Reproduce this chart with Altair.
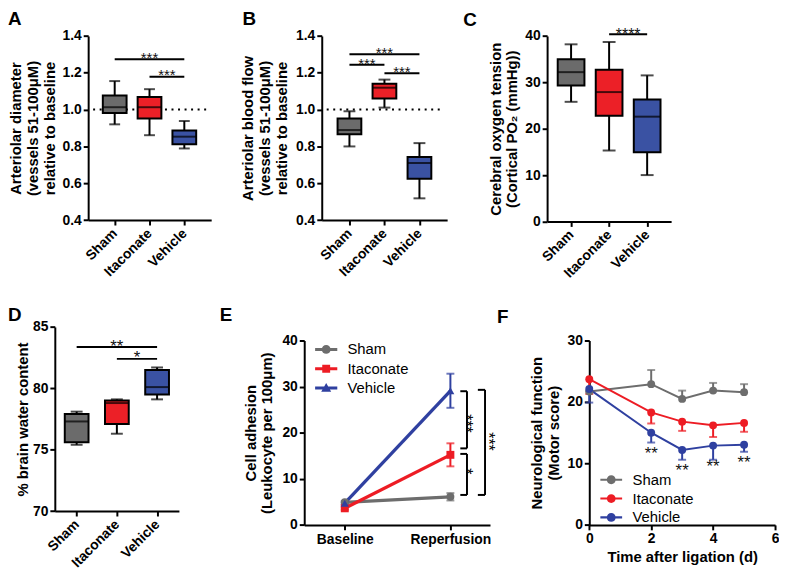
import altair as alt
import pandas as pd

FONT = "Liberation Sans"

groups = ["Sham", "Itaconate", "Vehicle"]
box_colors = ["#6b6b6b", "#ec2027", "#3a52a3"]
line_colors = ["#6d6d6d", "#ed1c24", "#2f40a0"]

# ---------------- Panel A: arteriolar diameter (box stats)
a_lo = [0.920, 0.861, 0.789]
a_q1 = [0.982, 0.952, 0.812]
a_med = [1.013, 1.013, 0.853]
a_q3 = [1.077, 1.068, 0.887]
a_hi = [1.155, 1.111, 0.938]
a_sig_from = [0, 1]
a_sig_to = [2, 2]
a_sig_y = [1.273, 1.178]
a_sig_text = ["***", "***"]

# ---------------- Panel B: arteriolar blood flow
b_lo = [0.800, 1.011, 0.518]
b_q1 = [0.866, 1.060, 0.624]
b_med = [0.889, 1.119, 0.710]
b_q3 = [0.952, 1.140, 0.742]
b_hi = [0.991, 1.163, 0.818]
b_sig_from = [0, 0, 1]
b_sig_to = [2, 1, 2]
b_sig_y = [1.301, 1.244, 1.198]
b_sig_text = ["***", "***", "***"]

# ---------------- Panel C: cerebral oxygen tension
c_lo = [25.8, 15.3, 10.0]
c_q1 = [29.3, 22.8, 14.9]
c_med = [32.2, 27.9, 22.6]
c_q3 = [35.0, 32.7, 26.3]
c_hi = [38.2, 38.7, 31.5]
c_sig_from = [1]
c_sig_to = [2]
c_sig_y = [40.35]
c_sig_text = ["****"]

# ---------------- Panel D: brain water content
d_lo = [75.4, 76.3, 79.1]
d_q1 = [75.6, 77.1, 79.5]
d_med = [77.3, 78.8, 80.1]
d_q3 = [77.9, 79.0, 81.5]
d_hi = [78.1, 79.1, 81.7]
d_sig_from = [0, 1]
d_sig_to = [2, 2]
d_sig_y = [83.36, 82.4]
d_sig_text = ["**", "*"]

# ---------------- Panel E: cell adhesion
e_pos = [0, 1]
e_times = ["Baseline", "Reperfusion"]
e_sham = [4.9, 6.1]
e_sham_err = [0.3, 0.8]
e_ita = [3.6, 15.2]
e_ita_err = [0.3, 2.5]
e_veh = [4.7, 29.1]
e_veh_err = [0.3, 3.7]
e_br_x0 = [1.094, 1.094, 1.26]
e_br_x1 = [1.157, 1.157, 1.328]
e_br_top = [29.0, 15.4, 29.3]
e_br_bot = [16.6, 6.5, 6.5]
e_st_x = [1.19, 1.19, 1.397]
e_st_y = [22.0, 11.6, 18.1]
e_st_t = ["***", "*", "***"]

# ---------------- Panel F: neurological function
f_days = [0, 2, 3, 4, 5]
f_sham = [21.7, 22.9, 20.5, 21.85, 21.6]
f_sham_err = [0.0, 2.3, 1.35, 1.25, 1.3]
f_ita = [23.7, 18.3, 16.8, 16.2, 16.6]
f_ita_err = [2.4, 1.8, 1.5, 1.9, 1.45]
f_veh = [22.1, 15.0, 12.2, 12.9, 13.05]
f_veh_err = [2.2, 1.6, 1.6, 2.3, 1.15]
f_err_dir = [1, -1, -1]
f_star_day = [2, 3, 4, 5]
f_star_y = [12.3, 9.5, 10.2, 10.85]
f_star_t = ["**", "**", "**", "**"]

# ---------------- layout (pixels inside one 779x572 view)
W, H = 779, 572
GEOM = {  # x range (left, right), y range (bottom, top)
    "A": ((81, 205.3), (211.3, 25.3)),
    "B": ((317, 443.7), (211.3, 25.3)),
    "C": ((544.7, 670), (212.7, 25.3)),
    "D": ((47.3, 172.7), (505.3, 319.3)),
    "E": ((299.3, 487), (519.3, 333)),
    "F": ((587.3, 775), (519.3, 333)),
}
LETTER_POS = {"A": (0, -1), "B": (237, -1), "C": (460, 0),
              "D": (0, 298.6), "E": (214, 298.6), "F": (494, 300)}

# legend symbols (line + marker), unit coords scaled by sqrt(size)/2
E_LINE = "M-1.6,-0.22L1.6,-0.22L1.6,0.22L-1.6,0.22Z"
F_LINE = "M-1.57,-0.15L1.57,-0.15L1.57,0.15L-1.57,0.15Z"
CIRC = "M-0.64,0A0.64,0.64,0,1,1,0.64,0A0.64,0.64,0,1,1,-0.64,0Z"
SQR = "M-0.57,-0.57L0.57,-0.57L0.57,0.57L-0.57,0.57Z"
TRI = "M0,-0.72L0.72,0.52L-0.72,0.52Z"
e_leg_paths = [E_LINE + CIRC, E_LINE + SQR, E_LINE + TRI]
f_leg_paths = [F_LINE + CIRC, F_LINE + CIRC, F_LINE + CIRC]


def label_expr(names):
    return "[" + ",".join("'%s'" % n for n in names) + "][datum.value]"


def scales(key, xdom, ydom):
    (x0, x1), (yb, yt) = GEOM[key]
    xs = alt.Scale(domain=xdom, range=[x0, x1], nice=False, zero=False)
    ys = alt.Scale(domain=ydom, range=[yb, yt], nice=False, zero=False)
    return xs, ys, -x0, yb - H


def box_panel(key, lo, q1, med, q3, hi, sig_from, sig_to, sig_y, sig_text, ydom, yvals, yfmt,
              ytitle, xdom, bw, cw, tpad, star_fs, star_gap, ref=None):
    n = len(groups)
    df = pd.DataFrame({"pos": list(range(n)), "group": groups, "lo": lo, "q1": q1,
                       "med": med, "q3": q3, "hi": hi})
    xs, ys, yoff, xoff = scales(key, xdom, ydom)
    xa = alt.Axis(orient="bottom", offset=xoff, values=list(range(n)), labelExpr=label_expr(groups),
                  labelAngle=-45, labelAlign="right", labelBaseline="middle", labelPadding=6,
                  title=None)
    ya = alt.Axis(orient="left", offset=yoff, values=yvals, format=yfmt, title=ytitle,
                  titlePadding=tpad, titleLineHeight=17)

    def X(f):
        return alt.X(f, scale=xs, axis=xa)

    def Y(f):
        return alt.Y(f, scale=ys, axis=ya)

    base = alt.Chart(df)
    layers = []
    if ref is not None:
        layers.append(alt.Chart(pd.DataFrame({"r0": [xdom[0]], "r1": [xdom[1]], "ref": [ref]})).mark_rule(
            color="black", strokeWidth=2, strokeDash=[2, 4.6]).encode(
            x=X("r0:Q"), x2="r1:Q", y=Y("ref:Q")))
    layers.append(base.mark_rule(color="black", strokeWidth=2).encode(
        x=X("pos:Q"), y=Y("lo:Q"), y2="hi:Q"))
    for f in ["lo:Q", "hi:Q"]:
        layers.append(base.mark_tick(orient="horizontal", size=cw, thickness=2, color="black").encode(
            x=X("pos:Q"), y=Y(f)))
    layers.append(base.mark_bar(size=bw, stroke="black", strokeWidth=2, orient="vertical").encode(
        x=X("pos:Q"), y=Y("q1:Q"), y2="q3:Q",
        color=alt.Color("group:N", scale=alt.Scale(domain=groups, range=box_colors), legend=None)))
    layers.append(base.mark_tick(orient="horizontal", size=bw, thickness=2, color="black").encode(
        x=X("pos:Q"), y=Y("med:Q")))
    sig = pd.DataFrame({"x1": sig_from, "x2": sig_to, "y": sig_y, "t": sig_text})
    sb = alt.Chart(sig)
    layers.append(sb.mark_rule(color="black", strokeWidth=2).encode(
        x=X("x1:Q"), x2="x2:Q", y=Y("y:Q")))
    layers.append(sb.transform_calculate(mid="(datum.x1 + datum.x2) / 2").mark_text(
        font=FONT, fontSize=star_fs, baseline="middle", dy=0.275 * star_fs - star_gap,
        fill="#111111").encode(x=X("mid:Q"), y=Y("y:Q"), text="t:N"))
    return alt.layer(*layers)


def legend(lx, ly, rowpad):
    return alt.Legend(orient="none", legendX=lx, legendY=ly, title=None, labelFont=FONT,
                      labelFontSize=15, labelColor="black", labelFontWeight="normal",
                      symbolSize=196, symbolStrokeWidth=0, symbolOpacity=1, labelOffset=14,
                      rowPadding=rowpad, padding=0)


A = box_panel("A", a_lo, a_q1, a_med, a_q3, a_hi, a_sig_from, a_sig_to, a_sig_y, a_sig_text,
              [0.4, 1.4], [0.4, 0.6, 0.8, 1.0, 1.2, 1.4], ".1f",
              ["Arteriolar diameter", "(vessels 51-100\u03bcM)", "relative to baseline"],
              [-0.62, 2.63], 24, 11, 5, 15, 5.5, ref=1.0)
B = box_panel("B", b_lo, b_q1, b_med, b_q3, b_hi, b_sig_from, b_sig_to, b_sig_y, b_sig_text,
              [0.4, 1.4], [0.4, 0.6, 0.8, 1.0, 1.2, 1.4], ".1f",
              ["Arteriolar blood flow", "(vessels 51-100\u03bcM)", "relative to baseline"],
              [-0.65, 2.65], 24, 12, 6, 15, 5, ref=1.0)
C = box_panel("C", c_lo, c_q1, c_med, c_q3, c_hi, c_sig_from, c_sig_to, c_sig_y, c_sig_text,
              [0, 40], [0, 10, 20, 30, 40], "d",
              ["Cerebral oxygen tension", "(Cortical PO\u2082 (mmHg))"],
              [-0.5, 2.5], 27, 13, 5, 16, 4)
D = box_panel("D", d_lo, d_q1, d_med, d_q3, d_hi, d_sig_from, d_sig_to, d_sig_y, d_sig_text,
              [70, 85], [70, 75, 80, 85], "d", "% brain  water content",
              [-0.42, 2.42], 24, 12, 2, 17, 5)

# ---------------- Panel E build
rows = []
for g, m, e in zip(groups, [e_sham, e_ita, e_veh], [e_sham_err, e_ita_err, e_veh_err]):
    for p, mv, ev in zip(e_pos, m, e):
        rows.append({"group": g, "pos": p, "mean": mv, "lo": mv - ev, "hi": mv + ev})
df_e = pd.DataFrame(rows)
exs, eys, e_yoff, e_xoff = scales("E", [-0.384, 1.375], [0, 40])
exa = alt.Axis(orient="bottom", offset=e_xoff, values=e_pos, labelExpr=label_expr(e_times),
               labelAngle=0, title=None, labelPadding=3)
eya = alt.Axis(orient="left", offset=e_yoff, values=[0, 10, 20, 30, 40],
               title=["Cell adhesion", "(Leukocyte per 100\u03bcm)"], titlePadding=7, titleLineHeight=17)


def EX(f):
    return alt.X(f, scale=exs, axis=exa)


def EY(f):
    return alt.Y(f, scale=eys, axis=eya)


ecol = alt.Color("group:N", scale=alt.Scale(domain=groups, range=line_colors), legend=None)
eb = alt.Chart(df_e)
e_lines = eb.mark_line(strokeWidth=3.3).encode(x=EX("pos:Q"), y=EY("mean:Q"), color=ecol)
e_err = eb.mark_rule(strokeWidth=2).encode(x=EX("pos:Q"), y=EY("lo:Q"), y2="hi:Q", color=ecol)
e_cap_lo = eb.mark_tick(orient="horizontal", size=8, thickness=2).encode(x=EX("pos:Q"), y=EY("lo:Q"), color=ecol)
e_cap_hi = eb.mark_tick(orient="horizontal", size=8, thickness=2).encode(x=EX("pos:Q"), y=EY("hi:Q"), color=ecol)
e_pts = eb.mark_point(filled=True, size=64, opacity=1).encode(
    x=EX("pos:Q"), y=EY("mean:Q"), color=ecol,
    shape=alt.Shape("group:N", scale=alt.Scale(domain=groups, range=["circle", "square", "triangle-up"]),
                    legend=None))
seg = []
for x0, x1, t, b in zip(e_br_x0, e_br_x1, e_br_top, e_br_bot):
    seg.append({"xa": x0, "xb": x1, "ya": t, "yb": t})
    seg.append({"xa": x0, "xb": x1, "ya": b, "yb": b})
    seg.append({"xa": x1, "xb": x1, "ya": t, "yb": b})
e_br = alt.Chart(pd.DataFrame(seg)).mark_rule(color="black", strokeWidth=2).encode(
    x=EX("xa:Q"), x2="xb:Q", y=EY("ya:Q"), y2="yb:Q")
e_st = alt.Chart(pd.DataFrame({"sx": e_st_x, "sy": e_st_y, "st": e_st_t})).mark_text(
    font=FONT, fontSize=16, angle=90, baseline="middle", dy=0.275 * 16, fill="#000000").encode(
    x=EX("sx:Q"), y=EY("sy:Q"), text="st:N")
e_leg_l = legend(314, 334.5, 3.5)
e_leg = alt.Chart(pd.DataFrame({"series": groups})).mark_point(filled=True, opacity=0).encode(
    x=alt.value(0), y=alt.value(0),
    color=alt.Color("series:N", scale=alt.Scale(domain=groups, range=line_colors), legend=e_leg_l),
    shape=alt.Shape("series:N", scale=alt.Scale(domain=groups, range=e_leg_paths), legend=e_leg_l))
E = alt.layer(e_lines, e_err, e_cap_lo, e_cap_hi, e_pts, e_br, e_st, e_leg).resolve_scale(
    color="independent", shape="independent")

# ---------------- Panel F build
rows = []
for g, m, e, d in zip(groups, [f_sham, f_ita, f_veh], [f_sham_err, f_ita_err, f_veh_err], f_err_dir):
    for day, mv, ev in zip(f_days, m, e):
        rows.append({"group": g, "day": day, "mean": mv, "end": mv + d * ev})
df_f = pd.DataFrame(rows)
fxs, fys, f_yoff, f_xoff = scales("F", [0, 6], [0, 30])
fxa = alt.Axis(orient="bottom", offset=f_xoff, values=[0, 2, 4, 6], title="Time after ligation (d)",
               labelAngle=0, titlePadding=4)
fya = alt.Axis(orient="left", offset=f_yoff, values=[0, 10, 20, 30],
               title=["Neurological function", "(Motor score)"], titlePadding=6, titleLineHeight=17)


def FX(f):
    return alt.X(f, scale=fxs, axis=fxa)


def FY(f):
    return alt.Y(f, scale=fys, axis=fya)


fcol = alt.Color("group:N", scale=alt.Scale(domain=groups, range=line_colors), legend=None)
fb = alt.Chart(df_f)
f_lines = fb.mark_line(strokeWidth=2).encode(x=FX("day:Q"), y=FY("mean:Q"), color=fcol)
f_err = fb.mark_rule(strokeWidth=2).encode(x=FX("day:Q"), y=FY("mean:Q"), y2="end:Q", color=fcol)
f_cap = fb.mark_tick(orient="horizontal", size=8, thickness=2).encode(x=FX("day:Q"), y=FY("end:Q"), color=fcol)
f_pts = fb.mark_point(filled=True, size=64, opacity=1, shape="circle").encode(
    x=FX("day:Q"), y=FY("mean:Q"), color=fcol)
f_st = alt.Chart(pd.DataFrame({"sx": f_star_day, "sy": f_star_y, "st": f_star_t})).mark_text(
    font=FONT, fontSize=17, baseline="middle", dy=0.275 * 17, fill="#111111").encode(
    x=FX("sx:Q"), y=FY("sy:Q"), text="st:N")
f_leg_l = legend(602, 466.2, 3)
f_leg = alt.Chart(pd.DataFrame({"series": groups})).mark_point(filled=True, opacity=0).encode(
    x=alt.value(0), y=alt.value(0),
    color=alt.Color("series:N", scale=alt.Scale(domain=groups, range=line_colors), legend=f_leg_l),
    shape=alt.Shape("series:N", scale=alt.Scale(domain=groups, range=f_leg_paths), legend=f_leg_l))
F = alt.layer(f_lines, f_err, f_cap, f_pts, f_st, f_leg).resolve_scale(
    color="independent", shape="independent")

# ---------------- panel letters
letters = []
for k, (lx, ly) in LETTER_POS.items():
    letters.append(alt.Chart(pd.DataFrame({"L": [k]})).mark_text(
        font=FONT, fontSize=19, fontWeight="bold", align="left", baseline="top",
        fill="black").encode(text="L:N", x=alt.value(lx), y=alt.value(ly)))

chart = alt.layer(A, B, C, D, E, F, *letters).resolve_scale(
    x="independent", y="independent", color="independent", shape="independent").properties(
    width=W, height=H, autosize=alt.AutoSizeParams(type="none"), padding=0).configure(
    font=FONT).configure_view(stroke=None).configure_axis(
    domainColor="black", domainWidth=2, tickColor="black", tickWidth=2, tickSize=5,
    labelColor="black", labelFont=FONT, labelFontSize=14, labelFontWeight="bold", labelPadding=2,
    titleColor="black", titleFont=FONT, titleFontSize=15, titleFontWeight="bold",
    grid=False, labelFlush=False, labelOverlap=False)

chart.save("out.html", embed_options={"renderer": "svg", "actions": False})
